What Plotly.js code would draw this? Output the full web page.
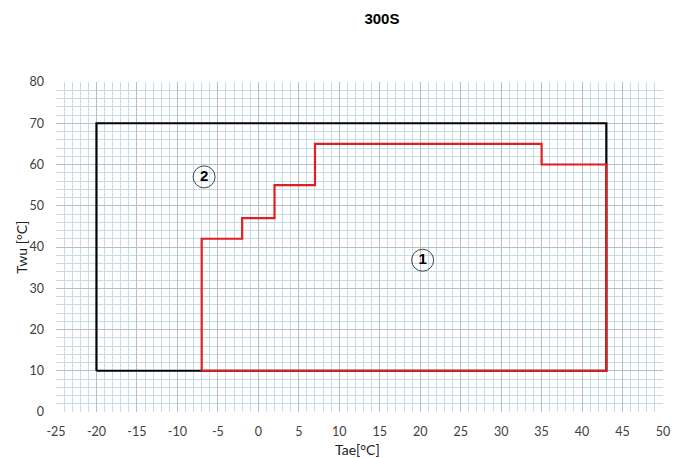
<!DOCTYPE html>
<html><head><meta charset="utf-8">
<script src="https://cdn.plot.ly/plotly-3.0.1.min.js"></script>
<style>body{margin:0;background:#fff}#c{width:679px;height:458px}</style>
</head><body><div id="c"></div>
<script>
// Outer envelope (black)
const outerX = [-20, -20, 43, 43, -20];
const outerY = [10, 70, 70, 10, 10];
// Inner envelope (red)
const innerX = [-7, -7, -2, -2, 2, 2, 7, 7, 35, 35, 43, 43, -7];
const innerY = [10, 42, 42, 47, 47, 55, 55, 65, 65, 60, 60, 10, 10];
// Region labels
const labelX = [20.3, -6.7];
const labelY = [36.8, 57];
const labelText = ['1', '2'];
const xTicks = [-25,-20,-15,-10,-5,0,5,10,15,20,25,30,35,40,45,50];
const yTicks = [0,10,20,30,40,50,60,70,80];

const font = 'Lato, "Open Sans", sans-serif';
const data = [
  {x: outerX, y: outerY, mode: 'lines', line: {color: '#000', width: 2.2}, hoverinfo: 'skip'},
  {x: innerX, y: innerY, mode: 'lines', line: {color: '#e02020', width: 2.2}, hoverinfo: 'skip'},
  {x: labelX, y: labelY, text: labelText, mode: 'markers+text', textposition: 'middle center',
   marker: {symbol: 'circle-open', size: 22, color: '#444', line: {width: 1}},
   textfont: {family: 'Liberation Sans, Arial, sans-serif', size: 15, color: '#000', weight: 'bold'}, hoverinfo: 'skip'}
];
const layout = {
  width: 679, height: 458,
  margin: {l: 56, r: 16, t: 82, b: 46},
  paper_bgcolor: '#fff', plot_bgcolor: '#fff',
  showlegend: false,
  title: {text: '<b>300S</b>', x: 0.537, xref: 'paper', y: 0.96, yanchor: 'middle',
          font: {family: 'Liberation Sans, Arial, sans-serif', size: 15, color: '#000'}},
  xaxis: {range: [-25, 50], tickvals: xTicks, ticktext: xTicks.map(String),
          showgrid: true, gridcolor: '#bdbdbd', gridwidth: 1, zeroline: false,
          showline: false, ticks: '', ticklen: 0, ticklabelstandoff: 10,
          tickfont: {family: font, size: 12.5, color: '#404040'},
          minor: {dtick: 1, tick0: 0, showgrid: true, gridcolor: '#c6dce6', gridwidth: 1}},
  yaxis: {range: [0, 80], tickvals: yTicks, ticktext: yTicks.map(String),
          showgrid: true, gridcolor: '#bdbdbd', gridwidth: 1, zeroline: false,
          showline: false, ticks: '', ticklen: 0, ticklabelstandoff: 11,
          tickfont: {family: font, size: 12.5, color: '#404040'},
          minor: {dtick: 2, tick0: 0, showgrid: true, gridcolor: '#c6dce6', gridwidth: 1}},
  annotations: [
    {text: 'Tae[°C]', xref: 'paper', yref: 'paper', x: 0.4975, y: -0.115, xanchor: 'center', yanchor: 'middle',
     showarrow: false, font: {family: font, size: 14, color: '#222'}},
    {text: 'Twu [°C]', xref: 'paper', yref: 'paper', x: -0.058, y: 0.5, xanchor: 'center', yanchor: 'middle',
     textangle: -90, showarrow: false, font: {family: font, size: 14, color: '#222'}}
  ]
};
Plotly.newPlot('c', data, layout, {staticPlot: true, displayModeBar: false});
</script></body></html>
